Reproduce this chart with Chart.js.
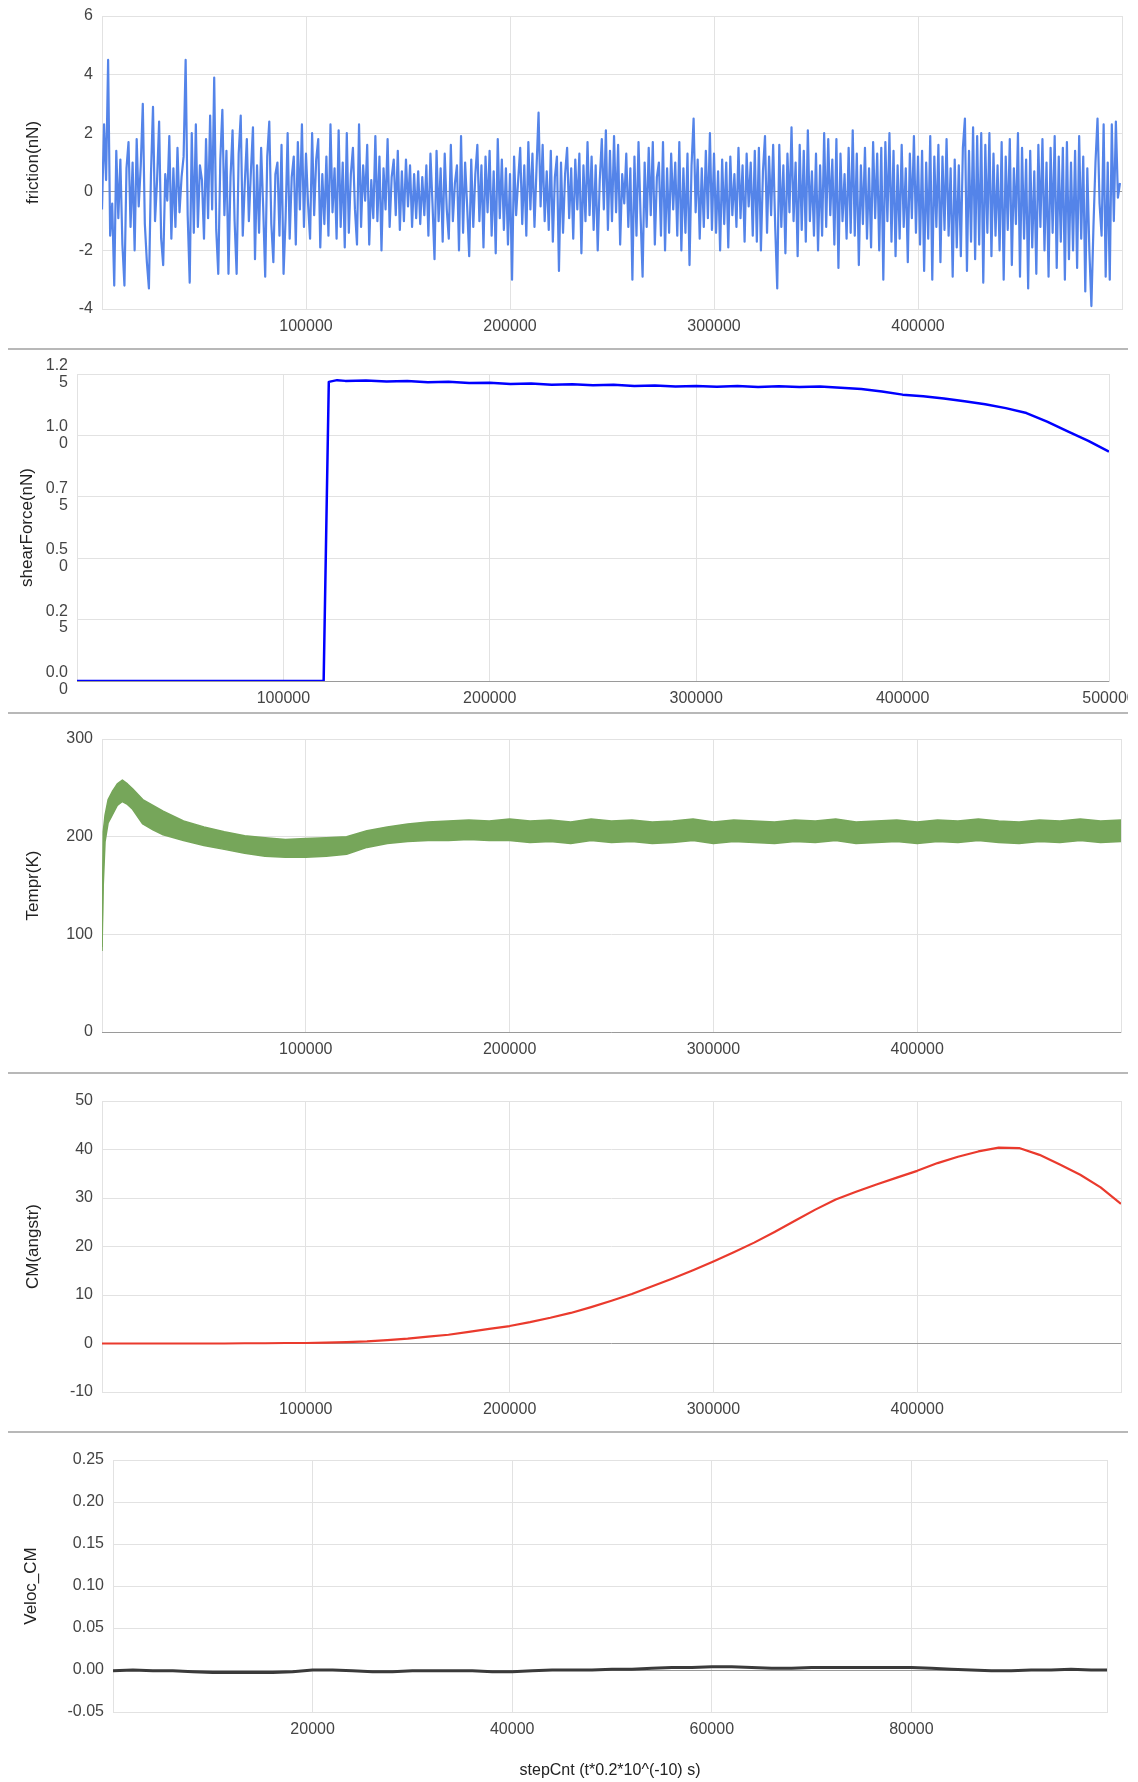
<!DOCTYPE html>
<html lang="en">
<head>
  <meta charset="UTF-8">
  <title>Sliding run</title>
  <script src="https://cdn.jsdelivr.net/npm/chart.js"></script>
  <style>
    body { margin: 0; background: #fff; }
    #page { position: relative; width: 1138px; height: 1782px; overflow: hidden; }
    .panel { position: absolute; left: 0; overflow: hidden; }
    .panel canvas { display: block; }
    .sep { position: absolute; left: 8px; width: 1120px; height: 2px; background: #b8b8b8; z-index: 2; }
  </style>
</head>
<body>
<div id="page">
  <div class="panel" style="top:0; width:1138px; height:349px"><canvas id="frictionChart" width="1138" height="349"></canvas></div>
  <div class="panel" style="top:351px; width:1128px; height:362px"><canvas id="shearChart" width="1138" height="362"></canvas></div>
  <div class="panel" style="top:714px; width:1138px; height:359px"><canvas id="temprChart" width="1138" height="359"></canvas></div>
  <div class="panel" style="top:1074px; width:1138px; height:358px"><canvas id="cmChart" width="1138" height="358"></canvas></div>
  <div class="panel" style="top:1433px; width:1138px; height:349px"><canvas id="velocChart" width="1138" height="349"></canvas></div>
  <div class="sep" style="top:348px"></div>
  <div class="sep" style="top:712px"></div>
  <div class="sep" style="top:1072px"></div>
  <div class="sep" style="top:1431px"></div>
</div>

<script>
  // x ticks
  var stepTicks = [0, 100000, 200000, 300000, 400000, 500000];
  var velocTicks = [0, 20000, 40000, 60000, 80000];

  // friction(nN), sampled every 1000 steps
  var frictionStep = 1000;
  var frictionValues = [
    -0.6, 2.3, 0.4, 4.5, -1.5, -0.4, -3.2, 1.4, -0.9, 1.1,
    -1.8, -3.2, 0.8, 1.7, -1.2, 1.0, -2.0, 1.8, -0.5, 0.9,
    3.0, -1.1, -2.4, -3.3, 0.6, 2.9, -1.0, 0.4, 2.4, -1.6,
    -2.5, 0.6, -0.3, 1.9, -1.6, 0.8, -1.2, 1.5, -0.7, 0.5,
    1.2, 4.5, -0.8, -3.1, 2.0, -1.4, 2.3, -1.2, 0.9, 0.4,
    -1.6, 1.8, -0.9, 2.6, -0.6, 3.9, -1.3, -2.8, 1.1, 2.8,
    -0.8, 1.4, -2.8, 0.5, 2.1, -1.0, -2.8, 1.3, 2.6, -1.5,
    0.3, 1.8, -1.0, 0.7, 2.2, -2.3, 0.9, -1.4, 1.5, -0.5,
    -2.9, 1.2, 2.4, -1.1, -2.4, 0.6, 1.0, -1.5, 1.6, -2.8,
    -0.9, 2.0, -1.6, 0.5, 1.2, -1.8, 1.7, -0.6, 2.3, -1.2,
    1.3, -0.4, -1.6, 2.0, -0.8, 1.1, 1.8, -1.9, 0.6, -1.1,
    1.2, -1.5, 2.3, -0.7, 0.8, -1.6, 2.1, -1.2, 1.0, -1.9,
    2.0, -1.4, 0.6, 1.5, -0.6, -1.8, 2.3, -1.2, 0.9, -0.3,
    1.6, -1.8, 0.4, -0.9, 1.9, -1.0, 1.2, -2.0, 0.8, -0.6,
    1.8, -1.2, 0.5, 1.1, -0.8, 1.4, -1.3, 0.7, -1.0, 1.1,
    -0.5, 0.9, -1.2, 0.6, -0.9, 0.7, -1.1, 0.5, -0.8, 0.9,
    -1.5, 1.3, -0.4, -2.3, 1.4, -1.0, 0.8, -1.7, 1.3, -0.6,
    -1.6, 1.6, -1.0, 0.3, 0.9, -2.0, 1.9, -1.4, 1.0, -0.5,
    -2.2, 1.1, -1.2, 0.6, 1.6, -1.0, 0.9, -1.9, 1.2, -0.7,
    1.4, -1.5, 0.7, -2.1, 1.8, -0.9, 1.1, -1.3, 0.8, -1.8,
    0.6, -3.0, 1.2, -0.8, 0.4, 1.5, -1.1, 0.9, -1.5, 1.7,
    -0.6, 1.3, -1.2, 0.8, 2.7, -0.5, 1.6, -1.0, 0.7, -1.3,
    1.4, -1.7, 0.5, 1.2, -2.7, 1.0, -1.4, 0.6, 1.5, -0.9,
    0.8, -1.6, 1.1, -0.6, 1.3, -2.1, 0.9, -1.0, 1.7, -0.8,
    1.2, -1.3, 0.9, -2.0, 0.4, 1.8, -0.6, 2.1, -1.3, 1.4,
    -1.0, 1.9, -0.7, 1.6, -1.8, 0.6, -0.4, 1.3, -1.2, 0.8,
    -3.0, 1.2, -1.5, 1.7, -0.8, -2.9, 1.0, -1.2, 1.5, -0.8,
    1.7, -1.8, 0.5, 1.0, -1.5, 1.7, -2.0, 0.8, -1.4, 1.3,
    -0.6, 1.0, -1.5, 1.7, -2.0, 0.8, -1.4, 1.3, -2.5, 0.9,
    2.5, -0.7, 1.1, -1.6, 0.8, -1.2, 1.4, -0.9, 2.0, -1.3,
    1.3, -1.4, 0.7, -2.0, 1.1, -1.1, 1.0, -1.9, 1.2, -0.8,
    0.6, -1.2, 1.5, -0.9, 0.9, -1.7, 1.3, -0.5, 1.0, -1.5,
    1.4, -1.7, 1.5, -2.0, 0.7, 1.9, -1.4, 1.2, -0.8, 1.6,
    -1.2, -3.3, 1.6, -1.2, 0.9, -2.1, 1.3, -0.7, 2.2, -1.0,
    1.0, -2.2, 1.6, -1.3, 1.4, -1.7, 2.1, -1.0, 0.7, -1.5,
    1.3, -2.0, 0.9, -1.5, 2.0, -1.2, 1.8, -0.8, 1.1, -1.8,
    1.8, -2.6, 1.3, -1.0, 0.6, -1.6, 1.5, -1.4, 2.1, -1.5,
    1.3, -2.5, 0.9, -1.1, 1.5, -1.6, 0.8, -1.9, 1.7, -0.9,
    1.3, -2.0, 1.5, -3.0, 1.7, -1.0, 2.0, -1.7, 1.4, -2.2,
    0.9, -1.6, 1.6, -1.2, 0.8, -2.4, 1.3, -0.9, 1.9, -1.4,
    1.2, -1.8, 1.4, -2.7, 1.0, -1.6, 1.9, -3.0, 1.2, -1.2,
    1.6, -2.4, 1.2, -1.3, 1.8, -1.5, 0.8, -2.9, 1.1, -1.9,
    0.9, -2.2, 1.5, 2.5, -2.7, 1.4, -1.7, 2.2, -2.3, 1.9,
    -1.8, 2.0, -3.1, 1.6, -1.4, 2.0, -2.2, 1.3, -1.5, 0.9,
    -2.0, 1.7, -3.0, 1.2, -1.3, 1.8, -2.5, 0.8, -1.1, 2.0,
    -2.9, 1.5, -1.6, 1.1, -3.3, 1.4, -1.9, 0.7, -2.8, 1.6,
    -1.2, 1.8, -2.0, 1.0, -2.9, 1.5, -1.4, 1.9, -2.6, 1.2,
    -1.7, 1.5, -3.0, 1.7, -2.3, 1.0, -2.0, 1.4, -2.6, 1.9,
    -1.6, 1.2, -3.4, 0.8, -2.0, -3.9, -1.2, 1.0, 2.5, -0.4,
    -1.5, 2.3, -2.9, 1.0, -3.0, 2.3, -1.0, 2.4, -0.2, 0.3
  ];

  // shearForce(nN)
  var shearX = [0, 119500, 122000, 126000,
    130000, 140000, 150000, 160000, 170000, 180000, 190000, 200000, 210000, 220000,
    230000, 240000, 250000, 260000, 270000, 280000, 290000, 300000, 310000, 320000,
    330000, 340000, 350000, 360000, 370000, 380000, 390000, 400000, 410000, 420000,
    430000, 440000, 450000, 460000, 470000, 480000, 490000, 500000];
  var shearValues = [0, 0, 1.218, 1.225,
    1.222, 1.224, 1.219, 1.221, 1.216, 1.218, 1.213, 1.214, 1.209, 1.211,
    1.206, 1.208, 1.204, 1.206, 1.201, 1.203, 1.199, 1.201, 1.198, 1.201,
    1.197, 1.2, 1.197, 1.199, 1.194, 1.189, 1.179, 1.166, 1.159, 1.150,
    1.139, 1.127, 1.111, 1.091, 1.056, 1.016, 0.978, 0.934];

  // Tempr(K): upper and lower edge of the noisy band
  var temprX = [0, 600, 1500, 3000, 5000, 7500, 10000, 12500, 15000, 20000, 25000, 30000,
    40000, 50000, 60000, 70000, 80000, 90000, 100000, 110000, 120000, 130000, 140000,
    150000, 160000, 170000, 180000, 190000,
    200000, 210000, 220000, 230000, 240000, 250000, 260000, 270000, 280000, 290000,
    300000, 310000, 320000, 330000, 340000, 350000, 360000, 370000, 380000, 390000,
    400000, 410000, 420000, 430000, 440000, 450000, 460000, 470000, 480000, 490000, 500000];
  var temprHigh = [87, 205, 222, 238, 246, 254, 258, 254, 249, 238, 232, 226,
    216, 210, 205, 201, 199, 197, 198, 199, 200, 206, 210,
    213, 215, 216, 217, 216,
    218, 216, 217, 215, 218, 216, 217, 215, 216, 218,
    215, 217, 216, 215, 217, 216, 218, 215, 216, 217,
    215, 217, 216, 218, 216, 215, 217, 216, 218, 216, 217];
  var temprLow = [83, 150, 195, 214, 222, 232, 236, 233, 228, 213, 207, 202,
    196, 191, 187, 183, 180, 179, 179, 180, 182, 189, 193,
    195, 196, 196, 197, 196,
    196, 194, 195, 193, 196, 194, 195, 193, 194, 196,
    193, 195, 194, 193, 195, 194, 196, 193, 194, 195,
    193, 195, 194, 196, 194, 193, 195, 194, 196, 194, 195];

  // CM(angstr), sampled every 10000 steps
  var cmStep = 10000;
  var cmValues = [0, 0, 0, 0, 0, 0, 0, 0.05, 0.05, 0.1,
    0.1, 0.2, 0.3, 0.45, 0.7, 1.0, 1.4, 1.8, 2.4, 3.0,
    3.6, 4.4, 5.3, 6.3, 7.5, 8.8, 10.2, 11.8, 13.4, 15.1,
    16.9, 18.8, 20.8, 23.0, 25.3, 27.6, 29.7, 31.3, 32.8, 34.2,
    35.6, 37.2, 38.5, 39.6, 40.4, 40.3, 38.9, 36.9, 34.8, 32.2,
    28.8];

  // Veloc_CM
  var velocX = [0, 2000, 4000, 6000, 8000, 10000, 12000, 14000, 16000, 18000,
    20000, 22000, 24000, 26000, 28000, 30000, 32000, 34000, 36000, 38000,
    40000, 42000, 44000, 46000, 48000, 50000, 52000, 54000, 56000, 58000,
    60000, 62000, 64000, 66000, 68000, 70000, 72000, 74000, 76000, 78000,
    80000, 82000, 84000, 86000, 88000, 90000, 92000, 94000, 96000, 98000, 99600];
  var velocValues = [-0.001, 0, -0.001, -0.001, -0.002, -0.003, -0.003, -0.003, -0.003, -0.002,
    0, 0, -0.001, -0.002, -0.002, -0.001, -0.001, -0.001, -0.001, -0.002,
    -0.002, -0.001, 0, 0, 0, 0.001, 0.001, 0.002, 0.003, 0.003,
    0.004, 0.004, 0.003, 0.002, 0.002, 0.003, 0.003, 0.003, 0.003, 0.003,
    0.003, 0.002, 0.001, 0, -0.001, -0.001, 0, 0, 0.001, 0, 0];

  var xAxisTitle = 'stepCnt (t*0.2*10^(-10) s)';

  var FONT = "'Liberation Sans', Arial, sans-serif";

  function points(xs, ys) {
    return ys.map(function (y, i) { return { x: xs[i], y: y }; });
  }
  function stepped(step, ys) {
    return ys.map(function (y, i) { return { x: i * step, y: y }; });
  }

  // light frame round the plot area, drawn under the grid
  var framePlugin = {
    id: 'frame',
    beforeDraw: function (chart) {
      var a = chart.chartArea, ctx = chart.ctx;
      ctx.save();
      ctx.strokeStyle = '#e2e2e2';
      ctx.lineWidth = 1;
      ctx.strokeRect(Math.round(a.left) + 0.5, Math.round(a.top) + 0.5, Math.round(a.width), Math.round(a.height));
      ctx.restore();
    }
  };

  function makeChart(id, p) {
    return new Chart(document.getElementById(id), {
      type: 'line',
      data: { datasets: p.datasets },
      options: {
        responsive: false,
        animation: false,
        events: [],
        layout: { padding: p.pad },
        plugins: { legend: { display: false }, tooltip: { enabled: false } },
        elements: { point: { radius: 0 }, line: { tension: 0, borderJoinStyle: 'round' } },
        scales: {
          x: {
            type: 'linear', min: 0, max: p.xMax,
            afterBuildTicks: function (s) {
              s.ticks = p.xTicks.map(function (v) { return { value: v }; });
            },
            ticks: {
              padding: 8, color: '#444', maxRotation: 0, autoSkip: false,
              font: { family: FONT, size: 16 },
              callback: function (v) {
                if (v === 0) return '';
                if (v >= p.xMax && !p.showLastX) return '';
                return String(v);
              }
            },
            grid: { color: '#e2e2e2', drawTicks: false },
            border: { display: false },
            title: p.xTitle ? {
              display: true, text: p.xTitle, color: '#222',
              font: { family: FONT, size: 16 }, padding: { top: 0, bottom: 2 }
            } : { display: false },
            afterFit: function (s) { s.height = p.xHeight; s.paddingLeft = 0; s.paddingRight = 0; }
          },
          y: {
            min: p.yMin, max: p.yMax,
            ticks: {
              stepSize: p.yStep, padding: 9, color: '#444',
              font: { family: FONT, size: 16, lineHeight: 1.05 },
              callback: p.yLabel
            },
            grid: {
              drawTicks: false,
              color: function (c) { return (c.tick && Math.abs(c.tick.value) < 1e-9) ? '#9a9a9a' : '#e2e2e2'; }
            },
            border: { display: false },
            title: {
              display: true, text: p.yTitle, color: '#222',
              font: { family: FONT, size: 17 }, padding: { top: p.titleGap, bottom: 0 }
            },
            afterFit: function (s) { s.width = p.yWidth; s.paddingTop = 0; s.paddingBottom = 0; }
          }
        }
      },
      plugins: [framePlugin]
    });
  }

  makeChart('frictionChart', {
    datasets: [{ data: stepped(frictionStep, frictionValues), borderColor: '#5484e9', borderWidth: 2.2 }],
    xMax: 500000, xTicks: stepTicks, yMin: -4, yMax: 6, yStep: 2,
    yLabel: function (v) { return String(v); },
    yTitle: 'friction(nN)', titleGap: 23, yWidth: 102, xHeight: 40,
    pad: { top: 16, right: 16, bottom: 0, left: 0 }
  });

  makeChart('shearChart', {
    datasets: [{ data: points(shearX, shearValues), borderColor: '#0000ff', borderWidth: 2.5 }],
    xMax: 500000, xTicks: stepTicks, showLastX: true, yMin: 0, yMax: 1.25, yStep: 0.25,
    yLabel: function (v) { var s = v.toFixed(2); return [s.slice(0, 3), s.slice(3)]; },
    yTitle: 'shearForce(nN)', titleGap: 17, yWidth: 77, xHeight: 32,
    pad: { top: 23, right: 29, bottom: 0, left: 0 }
  });

  makeChart('temprChart', {
    datasets: [
      { data: points(temprX, temprHigh), borderColor: '#76a65a', backgroundColor: '#76a65a', borderWidth: 1.5, fill: '+1' },
      { data: points(temprX, temprLow), borderColor: '#76a65a', borderWidth: 1.5, fill: false }
    ],
    xMax: 500000, xTicks: stepTicks, yMin: 0, yMax: 300, yStep: 100,
    yLabel: function (v) { return String(v); },
    yTitle: 'Tempr(K)', titleGap: 23, yWidth: 102, xHeight: 41,
    pad: { top: 25, right: 17, bottom: 0, left: 0 }
  });

  makeChart('cmChart', {
    datasets: [{ data: stepped(cmStep, cmValues), borderColor: '#ea3a2d', borderWidth: 2.2 }],
    xMax: 500000, xTicks: stepTicks, yMin: -10, yMax: 50, yStep: 10,
    yLabel: function (v) { return String(v); },
    yTitle: 'CM(angstr)', titleGap: 23, yWidth: 102, xHeight: 40,
    pad: { top: 27, right: 17, bottom: 0, left: 0 }
  });

  makeChart('velocChart', {
    datasets: [{ data: points(velocX, velocValues), borderColor: '#3a3a3a', borderWidth: 3 }],
    xMax: 99600, xTicks: velocTicks, yMin: -0.05, yMax: 0.25, yStep: 0.05,
    yLabel: function (v) { return Math.abs(v) < 1e-9 ? '0.00' : v.toFixed(2); },
    yTitle: 'Veloc_CM', titleGap: 21, yWidth: 113, xHeight: 70, xTitle: xAxisTitle,
    pad: { top: 27, right: 31, bottom: 0, left: 0 }
  });
</script>
</body>
</html>
